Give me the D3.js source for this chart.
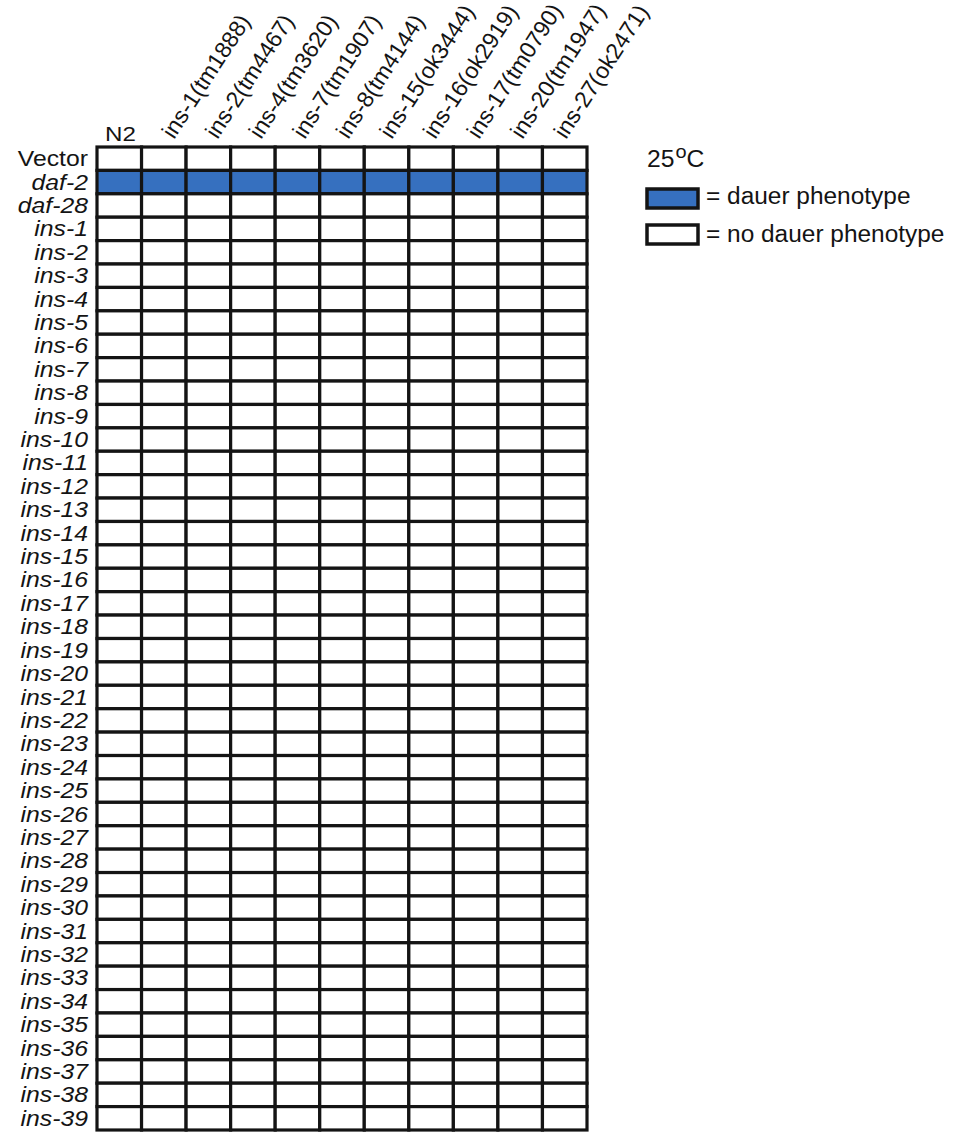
<!DOCTYPE html>
<html>
<head>
<meta charset="utf-8">
<script src="https://cdn.jsdelivr.net/npm/d3@7"></script>
<style>
  body { margin: 0; background: #fff; }
  svg { display: block; font-family: "Liberation Sans", Arial, sans-serif; }
</style>
</head>
<body>
<svg id="chart" width="953" height="1132"></svg>
<script>
// Strains (columns) and RNAi clones (rows)
const strains = ["N2", "ins-1(tm1888)", "ins-2(tm4467)", "ins-4(tm3620)", "ins-7(tm1907)",
  "ins-8(tm4144)", "ins-15(ok3444)", "ins-16(ok2919)", "ins-17(tm0790)", "ins-20(tm1947)", "ins-27(ok2471)"];
const rnaiClones = ["Vector", "daf-2", "daf-28"].concat(
  ["ins-1","ins-2","ins-3","ins-4","ins-5","ins-6","ins-7","ins-8","ins-9","ins-10",
   "ins-11","ins-12","ins-13","ins-14","ins-15","ins-16","ins-17","ins-18","ins-19","ins-20",
   "ins-21","ins-22","ins-23","ins-24","ins-25","ins-26","ins-27","ins-28","ins-29","ins-30",
   "ins-31","ins-32","ins-33","ins-34","ins-35","ins-36","ins-37","ins-38","ins-39"]);
// clones giving a dauer phenotype in every strain at 25 °C
const dauerClones = ["daf-2"];
const legendItems = ["= dauer phenotype", "= no dauer phenotype"];

const colorDauer = "#3670bf";
const ink = "#141414";
const svg = d3.select("#chart");

const x = d3.scaleBand().domain(strains).range([97, 587]);
const y = d3.scaleBand().domain(rnaiClones).range([147, 1130]);
// anchor points of the slanted mutant labels (slightly tighter than the columns)
const mutants = strains.slice(1);
const xLabel = d3.scalePoint().domain(mutants).range([174, 566]);

const cells = [];
rnaiClones.forEach(r => strains.forEach(s => cells.push({ r, s, dauer: dauerClones.includes(r) ? 1 : 0 })));

svg.append("g").selectAll("rect").data(cells).join("rect")
  .attr("x", d => x(d.s))
  .attr("y", d => y(d.r))
  .attr("width", x.bandwidth())
  .attr("height", y.bandwidth())
  .attr("fill", d => d.dauer ? colorDauer : "#fff")
  .attr("stroke", ink)
  .attr("stroke-width", 3.2);

// row labels (slightly wide lettering)
svg.append("g").selectAll("text").data(rnaiClones).join("text")
  .attr("transform", d => `translate(88,${y(d) + y.bandwidth() / 2 + 7.5}) scale(1.1,1)`)
  .attr("text-anchor", "end")
  .attr("font-size", 22.5)
  .attr("font-style", d => d === "Vector" ? "normal" : "italic")
  .attr("fill", ink)
  .text(d => d);

// column labels: N2 horizontal, mutants slanted
svg.append("text")
  .attr("font-size", 21)
  .attr("fill", ink)
  .attr("transform", `translate(${x("N2") + 8},141) scale(1.15,1)`)
  .text("N2");

svg.append("g").selectAll("text").data(mutants).join("text")
  .attr("font-size", 23)
  .attr("fill", ink)
  .attr("transform", d => `translate(${xLabel(d)},140) rotate(-57)`)
  .text(d => d);

// legend
const lg = svg.append("g");
const title = lg.append("text").attr("transform", "translate(647,167) scale(1.05,1)").attr("font-size", 23.5).attr("fill", ink);
title.append("tspan").text("25");
title.append("tspan").attr("dy", -9).attr("dx", 1).attr("font-size", 19).text("o");
title.append("tspan").attr("dy", 9).text("C");

lg.selectAll("rect").data(legendItems).join("rect")
  .attr("x", 647)
  .attr("y", (d, i) => 189 + i * 36)
  .attr("width", 51)
  .attr("height", 19)
  .attr("fill", (d, i) => i === 0 ? colorDauer : "#fff")
  .attr("stroke", ink)
  .attr("stroke-width", 3.5);

lg.selectAll("text.item").data(legendItems).join("text")
  .attr("class", "item")
  .attr("transform", (d, i) => `translate(706,${204 + i * 38}) scale(1.04,1)`)
  .attr("font-size", 23.5)
  .attr("fill", ink)
  .text(d => d);
</script>
</body>
</html>
